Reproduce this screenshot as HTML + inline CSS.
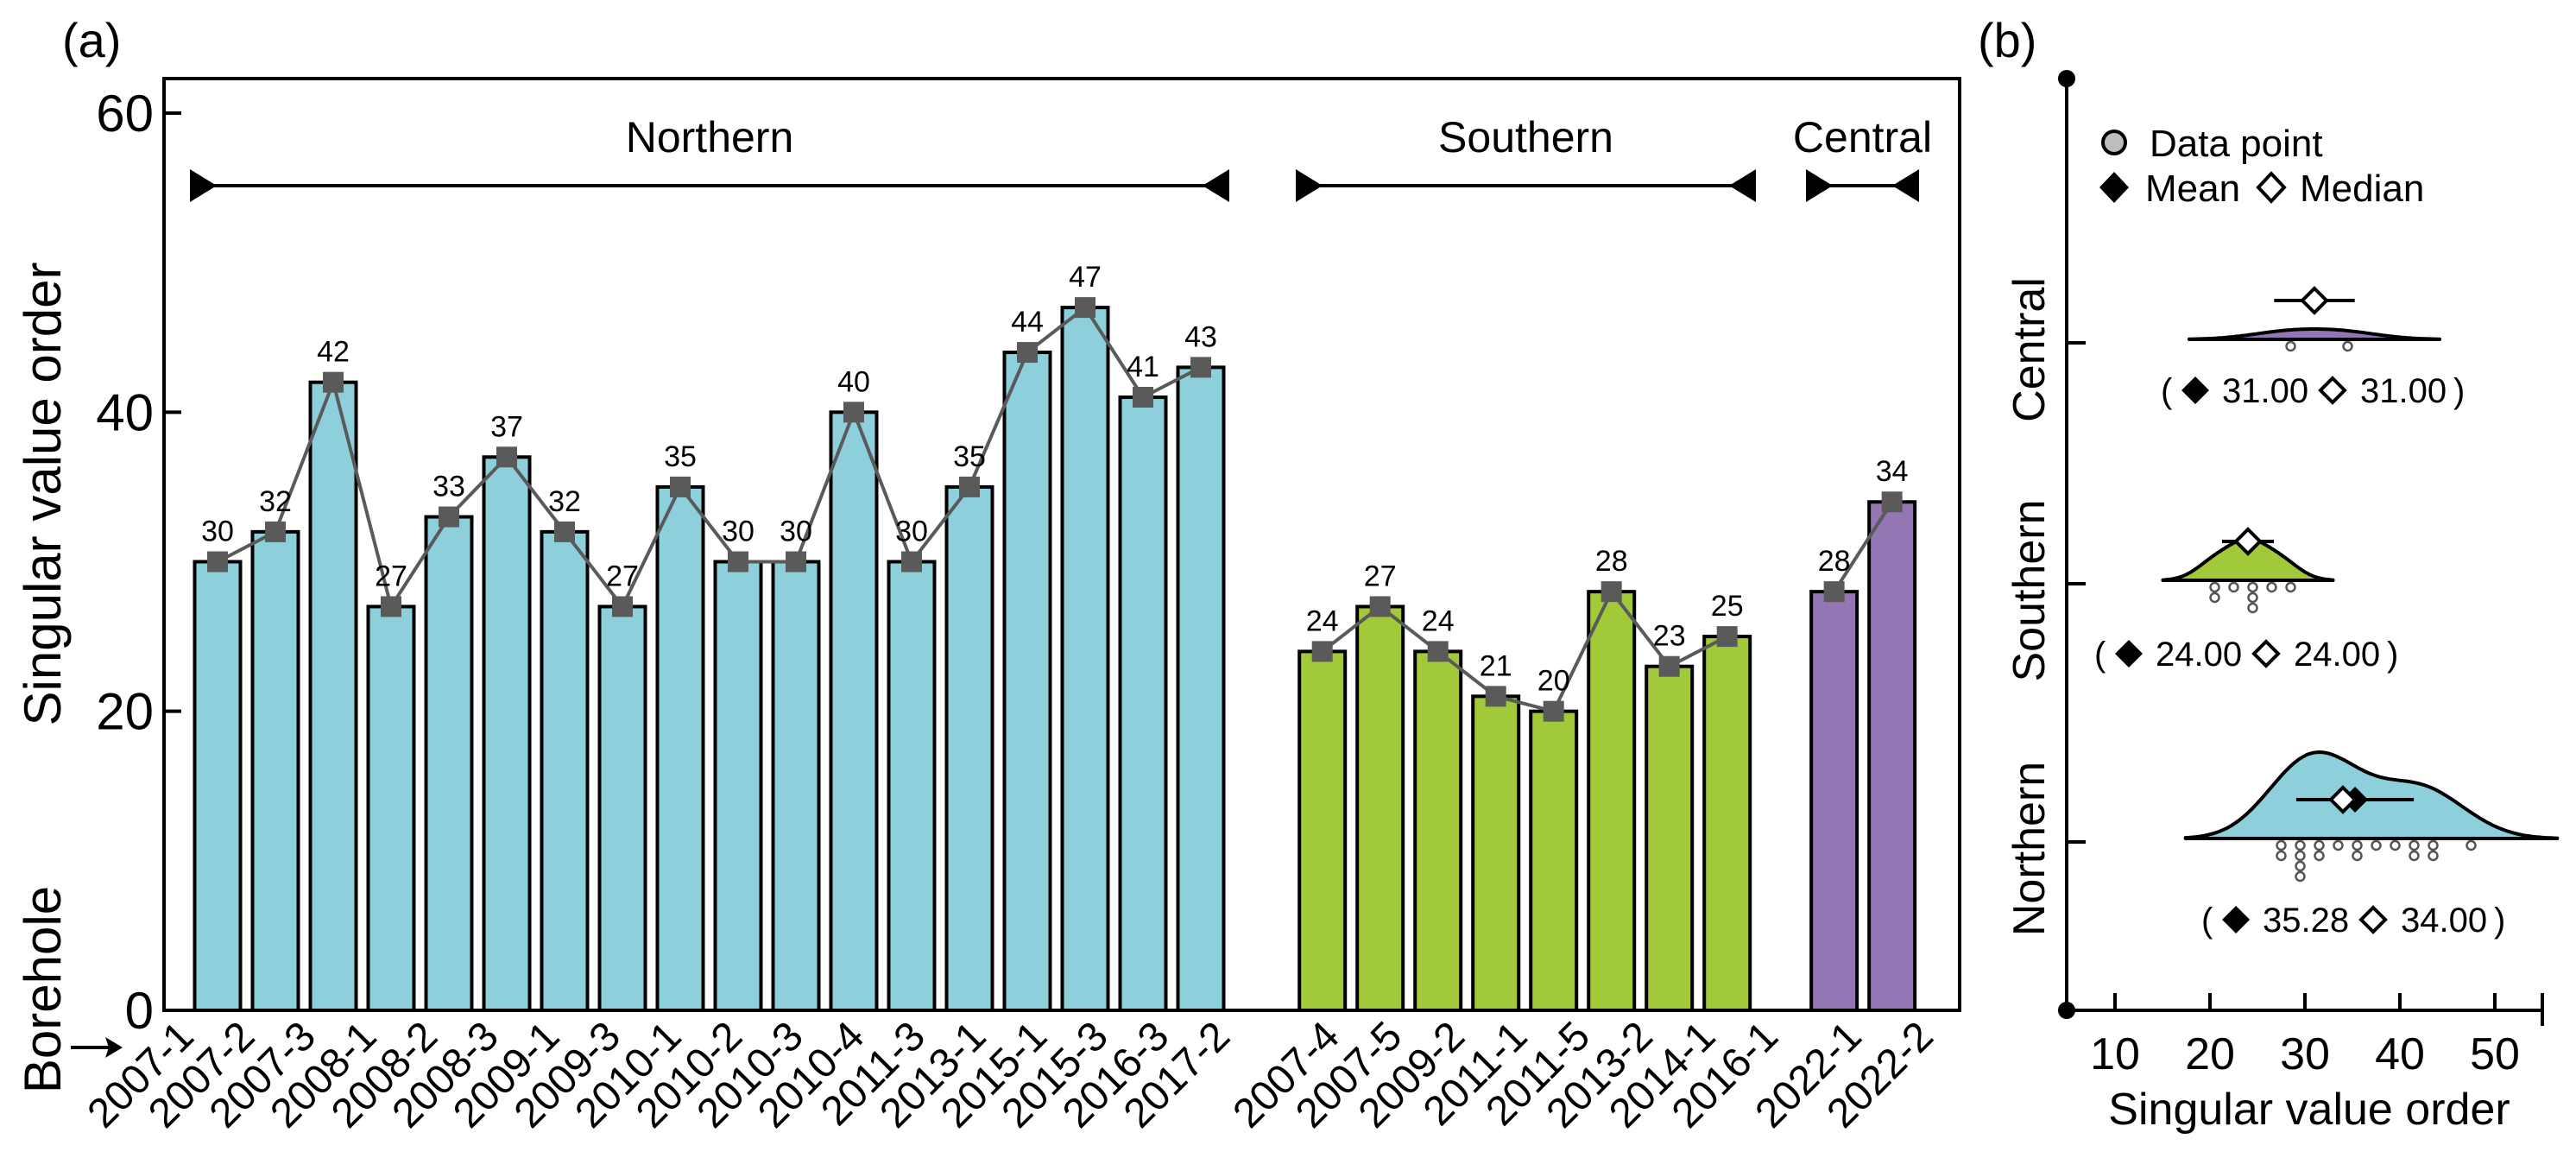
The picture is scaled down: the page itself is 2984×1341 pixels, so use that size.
<!DOCTYPE html>
<html><head><meta charset="utf-8"><style>
body{margin:0;background:#fff}
svg{display:block;font-family:"Liberation Sans",Arial,sans-serif}
</style></head><body>
<svg id="chart" width="2984" height="1341" viewBox="0 0 2984 1341" xmlns="http://www.w3.org/2000/svg">
<rect width="2984" height="1341" fill="#fff"/>
<g id="pa"></g>
<g id="pb"></g>
</svg>
<script>
const northLabels=["2007-1","2007-2","2007-3","2008-1","2008-2","2008-3","2009-1","2009-3","2010-1","2010-2","2010-3","2010-4","2011-3","2013-1","2015-1","2015-3","2016-3","2017-2"];
const northValues=[30,32,42,27,33,37,32,27,35,30,30,40,30,35,44,47,41,43];
const southLabels=["2007-4","2007-5","2009-2","2011-1","2011-5","2013-2","2014-1","2016-1"];
const southValues=[24,27,24,21,20,28,23,25];
const centralLabels=["2022-1","2022-2"];
const centralValues=[28,34];
const groupNames=["Northern","Southern","Central"];
const yTicks=[0,20,40,60];
const xTicksB=[10,20,30,40,50];

const NS="http://www.w3.org/2000/svg";
function el(tag,attrs,parent,text){const e=document.createElementNS(NS,tag);for(const k in attrs)e.setAttribute(k,attrs[k]);if(text!==undefined)e.textContent=text;parent.appendChild(e);return e;}
const pa=document.getElementById('pa'), pb=document.getElementById('pb');

// ---------- Panel A ----------
const y0=1170, yTop60=131;
const yA=v=>y0-(v/60)*(y0-yTop60);
const slot=s=>252+67*s;
const groups=[
 {labels:northLabels,values:northValues,off:0,color:"#8dd0dc",lab0:233,labP:70.6,arrow:[220,1424]},
 {labels:southLabels,values:southValues,off:19.1,color:"#a2c93a",lab0:1560,labP:72.6,arrow:[1501,2034]},
 {labels:centralLabels,values:centralValues,off:27.95,color:"#9476b4",lab0:2165,labP:83,arrow:[2092,2223]}
];
let t=el('text',{x:72,y:66,'font-size':56},pa,'(a)');

yTicks.forEach(v=>{
 let l=el('line',{x1:190,x2:210,y1:yA(v),y2:yA(v),stroke:'#000','stroke-width':4},pa);
 
 let tt=el('text',{x:178,y:yA(v)+21,'font-size':60,'text-anchor':'end'},pa,String(v));
 
});
t=el('text',{x:0,y:0,'font-size':60,'text-anchor':'middle',transform:'translate(70,572) rotate(-90)'},pa,'Singular value order');

t=el('text',{x:0,y:0,'font-size':60,'text-anchor':'middle',transform:'translate(70,1146) rotate(-90)'},pa,'Borehole');

let ar=el('g',{},pa);
el('line',{x1:82,x2:128,y1:1213,y2:1213,stroke:'#000','stroke-width':4},ar);
el('polygon',{points:'142,1213 122,1201 126,1213 122,1225',fill:'#000'},ar);

groups.forEach((g,gi)=>{
 const gg=el('g',{},pa);
 
 const pts=[];
 g.values.forEach((v,i)=>{
  const cx=slot(g.off+i);
  const b=el('rect',{x:cx-26.5,y:yA(v),width:53,height:y0-yA(v),fill:g.color,stroke:'#000','stroke-width':4},gg);
  
  pts.push([cx,yA(v)]);
  const lx=g.lab0+g.labP*i;
  const lt=el('text',{x:0,y:0,'font-size':48,'text-anchor':'end',transform:`translate(${lx-6},${1203}) rotate(-45)`},gg,g.labels[i]);
  
 });
 const ln=el('polyline',{points:pts.map(p=>p.join(',')).join(' '),fill:'none',stroke:'#5a5a5a','stroke-width':4},gg);
 
 g.values.forEach((v,i)=>{
  const [cx,cy]=pts[i];
  const m=el('rect',{x:cx-12,y:cy-12,width:24,height:24,fill:'#5a5a5a'},gg);
  
  const vt=el('text',{x:cx,y:cy-24,'font-size':34,'text-anchor':'middle'},gg,String(v));
  
 });
 const [a1,a2]=g.arrow;
 const hdr=el('g',{},gg);
 el('line',{x1:a1,x2:a2,y1:215,y2:215,stroke:'#000','stroke-width':4},hdr);
 el('polygon',{points:`${a1},196 ${a1+31},215 ${a1},234`,fill:'#000'},hdr);
 el('polygon',{points:`${a2},196 ${a2-31},215 ${a2},234`,fill:'#000'},hdr);
 el('text',{x:(a1+a2)/2,y:176,'font-size':50,'text-anchor':'middle'},hdr,groupNames[gi]);
});
const fr=el('rect',{x:190,y:91,width:2080,height:1079,fill:'none',stroke:'#000','stroke-width':4},pa);


// ---------- Panel B ----------
const xB=v=>2340+11*v;
const AX=2394;
t=el('text',{x:2291,y:66,'font-size':56},pb,'(b)');

let ax=el('g',{},pb);
el('line',{x1:AX,x2:AX,y1:91,y2:1170,stroke:'#000','stroke-width':4},ax);
el('circle',{cx:AX,cy:91,r:10,fill:'#000'},ax);
el('circle',{cx:AX,cy:1170,r:10,fill:'#000'},ax);
let xa=el('g',{},pb);
el('line',{x1:AX,x2:2945,y1:1170,y2:1170,stroke:'#000','stroke-width':4},xa);
el('line',{x1:2945,x2:2945,y1:1150,y2:1188,stroke:'#000','stroke-width':4},xa);
xTicksB.forEach(v=>{
 el('line',{x1:xB(v),x2:xB(v),y1:1150,y2:1170,stroke:'#000','stroke-width':4},xa);
 const tl=el('text',{x:xB(v),y:1238,'font-size':52,'text-anchor':'middle'},xa,String(v));
 
});
t=el('text',{x:2675,y:1302,'font-size':52,'text-anchor':'middle'},pb,'Singular value order');


// legend
const lg=el('g',{},pb);
el('circle',{cx:2449,cy:165,r:13,fill:'#bdbdbd',stroke:'#000','stroke-width':4},lg);
el('text',{x:2490,y:181,'font-size':44},lg,'Data point');
el('polygon',{points:'2449,199 2466,217 2449,235 2432,217',fill:'#000'},lg);
el('text',{x:2485,y:233,'font-size':44},lg,'Mean');
el('polygon',{points:'2631,201 2646,217 2631,233 2616,217',fill:'#fff',stroke:'#000','stroke-width':4},lg);
el('text',{x:2664,y:233,'font-size':44},lg,'Median');

const bGroups=[
 {name:"Central",values:centralValues,tick:397,color:"#9476b4",maxH:12,stat:55},
 {name:"Southern",values:southValues,tick:676,color:"#a2c93a",maxH:48,stat:81},
 {name:"Northern",values:northValues,tick:975,color:"#8dd0dc",maxH:100,stat:90}
];
const mean=a=>a.reduce((s,v)=>s+v,0)/a.length;
const median=a=>{const s=[...a].sort((x,y)=>x-y),n=s.length;return n%2?s[(n-1)/2]:(s[n/2-1]+s[n/2])/2;};
const sd=a=>{const m=mean(a);return Math.sqrt(a.reduce((s,v)=>s+(v-m)*(v-m),0)/(a.length-1));};
function diamond(parent,cx,cy,h,filled){return el('polygon',{points:`${cx},${cy-h} ${cx+h},${cy} ${cx},${cy+h} ${cx-h},${cy}`,fill:filled?'#000':'#fff',stroke:'#000','stroke-width':filled?0:4},parent);}

bGroups.forEach(g=>{
 const gg=el('g',{},pb);
 
 const base=g.tick-4;
 el('line',{x1:AX,x2:AX+22,y1:g.tick,y2:g.tick,stroke:'#000','stroke-width':4},gg);
 const cl=el('text',{x:0,y:0,'font-size':52,'text-anchor':'middle',transform:`translate(2368,${g.tick+8}) rotate(-90)`},gg,g.name);
 
 const m=mean(g.values),md=median(g.values),s=sd(g.values),n=g.values.length;
 const bw=1.06*s*Math.pow(n,-0.2);
 const lo=Math.min(...g.values)-2.6*bw, hi=Math.max(...g.values)+2.6*bw;
 const dens=[];let dmax=0;
 for(let i=0;i<=120;i++){const x=lo+(hi-lo)*i/120;let d=0;g.values.forEach(v=>{d+=Math.exp(-0.5*((x-v)/bw)**2);});dens.push([x,d]);if(d>dmax)dmax=d;}
 let path=`M${xB(lo)},${base} `+dens.map(([x,d])=>`L${xB(x).toFixed(1)},${(base-d/dmax*g.maxH).toFixed(1)}`).join(' ')+` L${xB(hi)},${base} Z`;
 const vp=el('path',{d:path,fill:g.color,stroke:'#000','stroke-width':4,'stroke-linejoin':'round'},gg);
 
 const mn=Math.min(...g.values);const bins={};
 g.values.forEach(v=>{const k=Math.floor((v-mn)/2);bins[k]=(bins[k]||0)+1;});
 for(const k in bins){for(let j=0;j<bins[k];j++){
  const dc=el('circle',{cx:xB(mn+0.5+2*k),cy:base+8+12*j,r:5,fill:'#fff',stroke:'#555','stroke-width':2.5},gg);
  
 }}
 const ey=g.tick-49;
 const eb=el('line',{x1:xB(m-s),x2:xB(m+s),y1:ey,y2:ey,stroke:'#000','stroke-width':4},gg);
 
 const dm=diamond(gg,xB(m),ey,15,true);
 const dd=diamond(gg,xB(md),ey,14,false);
 const st=el('g',{},gg);
 const L=xB(m)-178, sy=g.tick+g.stat+14;
 el('text',{x:L,y:sy,'font-size':40},st,'(');
 diamond(st,L+40,sy-14,16,true);
 el('text',{x:L+71,y:sy,'font-size':40},st,m.toFixed(2));
 diamond(st,L+199,sy-14,14,false);
 el('text',{x:L+231,y:sy,'font-size':40},st,md.toFixed(2));
 el('text',{x:L+339,y:sy,'font-size':40},st,')');
});
</script>
</body></html>
